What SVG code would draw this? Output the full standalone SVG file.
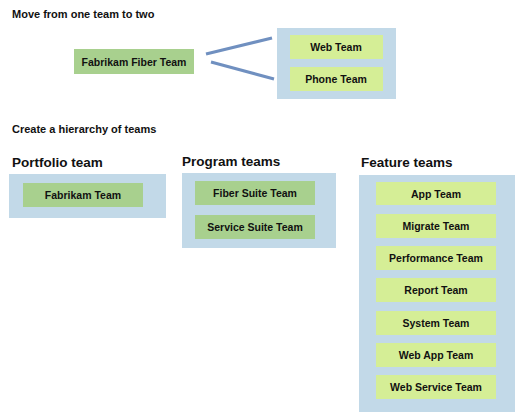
<svg xmlns="http://www.w3.org/2000/svg" width="520" height="419" viewBox="0 0 520 419">
<style>
.bg{fill:#c2d9e8}
.dk{fill:#a8d08e}
.lt{fill:#d5ee96}
.t{font-family:"Liberation Sans",Arial,sans-serif;font-weight:bold;font-size:11px;fill:#111}
.b{font-size:10.5px}
.h{font-family:"Liberation Sans",Arial,sans-serif;font-weight:bold;font-size:13.5px;fill:#111}
.c{text-anchor:middle}
.ln{stroke:#7090c0;stroke-width:3;fill:none}
</style>
<rect width="520" height="419" fill="#fff"/>
<text class="t" x="12" y="18">Move from one team to two</text>
<text class="t" x="12" y="133">Create a hierarchy of teams</text>
<text class="h" x="12" y="167">Portfolio team</text>
<text class="h" x="182" y="166">Program teams</text>
<text class="h" x="361" y="167">Feature teams</text>
<g id="containers">
<rect id="split-group" class="bg" x="277" y="28" width="119" height="71"/>
<rect id="portfolio-group" class="bg" x="9" y="174" width="157" height="44"/>
<rect id="program-group" class="bg" x="182" y="173" width="154" height="75"/>
<rect id="feature-group" class="bg" x="359" y="175" width="156" height="237"/>
</g>
<g id="connectors">
<line class="ln" x1="206" y1="54" x2="272" y2="38"/>
<line class="ln" x1="211" y1="62" x2="274" y2="79"/>
</g>
<g id="fabrikam-fiber"><rect class="dk" x="74" y="49" width="120" height="25"/><text class="t b c" x="134" y="66">Fabrikam Fiber Team</text></g>
<g id="web"><rect class="lt" x="290" y="35" width="93" height="24"/><text class="t b c" x="336" y="51">Web Team</text></g>
<g id="phone"><rect class="lt" x="290" y="67" width="93" height="24"/><text class="t b c" x="336" y="83">Phone Team</text></g>
<g id="fabrikam"><rect class="dk" x="23" y="183" width="120" height="24"/><text class="t b c" x="83" y="199">Fabrikam Team</text></g>
<g id="fiber-suite"><rect class="dk" x="195" y="181" width="120" height="24"/><text class="t b c" x="255" y="197">Fiber Suite Team</text></g>
<g id="service-suite"><rect class="dk" x="195" y="215" width="120" height="24"/><text class="t b c" x="255" y="231">Service Suite Team</text></g>
<g id="app"><rect class="lt" x="376" y="182" width="120" height="23"/><text class="t b c" x="436" y="198">App Team</text></g>
<g id="migrate"><rect class="lt" x="376" y="214" width="120" height="24"/><text class="t b c" x="436" y="230">Migrate Team</text></g>
<g id="performance"><rect class="lt" x="376" y="246" width="120" height="24"/><text class="t b c" x="436" y="262">Performance Team</text></g>
<g id="report"><rect class="lt" x="376" y="278" width="120" height="24"/><text class="t b c" x="436" y="294">Report Team</text></g>
<g id="system"><rect class="lt" x="376" y="311" width="120" height="24"/><text class="t b c" x="436" y="327">System Team</text></g>
<g id="web-app"><rect class="lt" x="376" y="343" width="120" height="24"/><text class="t b c" x="436" y="359">Web App Team</text></g>
<g id="web-service"><rect class="lt" x="376" y="375" width="120" height="24"/><text class="t b c" x="436" y="391">Web Service Team</text></g>
</svg>
